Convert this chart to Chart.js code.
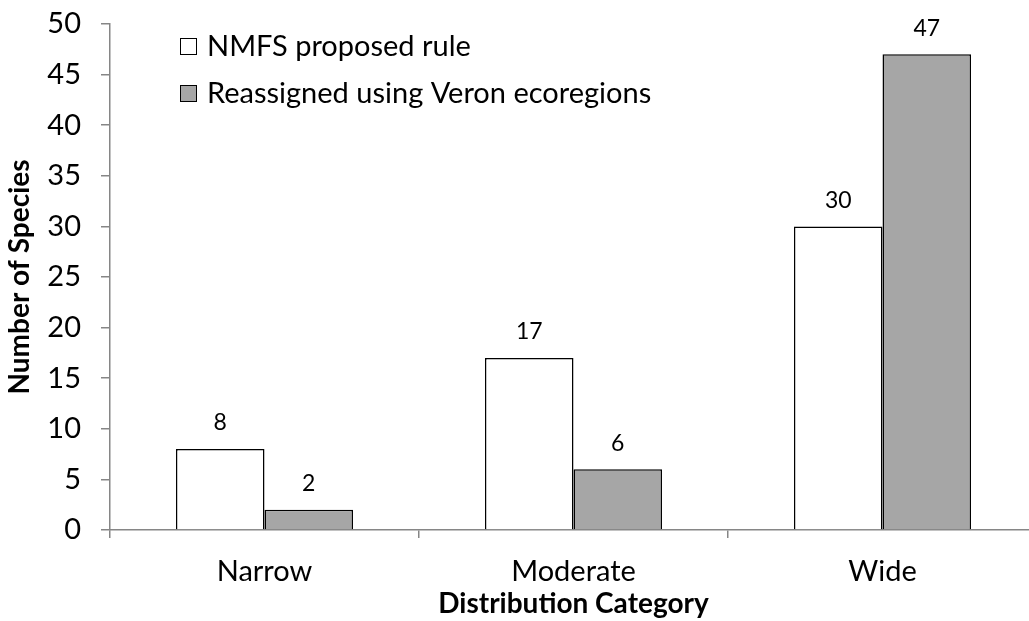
<!DOCTYPE html>
<html>
<head>
<meta charset="utf-8">
<script src="https://cdn.jsdelivr.net/npm/chart.js@4.4.1/dist/chart.umd.min.js"></script>
<style>
  html, body { margin: 0; padding: 0; background: #fff; overflow: hidden; }
  #wrap { width: 1029px; height: 621px; overflow: hidden; }
  #box { width: 1037px; height: 621px; }
</style>
</head>
<body>
<div id="wrap"><div id="box"><canvas id="speciesChart"></canvas></div></div>
<script>
const categories = ["Narrow", "Moderate", "Wide"];
const nmfsRule = [8, 17, 30];
const veronReassigned = [2, 6, 47];
const yTicks = [0, 5, 10, 15, 20, 25, 30, 35, 40, 45, 50];

const FONT = "Lato, 'Open Sans', sans-serif";
const AXIS_GRAY = "#868686";

// value labels above each bar
const barLabels = {
    id: "barLabels",
    afterDatasetsDraw(chart) {
        const c = chart.ctx;
        c.save();
        c.font = "23px " + FONT;
        c.fillStyle = "#000";
        c.textAlign = "center";
        c.textBaseline = "middle";
        chart.data.datasets.forEach((ds, i) => {
            chart.getDatasetMeta(i).data.forEach((bar, j) => {
                c.fillText(ds.data[j], bar.x, bar.y - 26);
            });
        });
        c.restore();
    }
};

// legend drawn inside the plot, top left
const innerLegend = {
    id: "innerLegend",
    afterDraw(chart) {
        const c = chart.ctx;
        const x0 = chart.chartArea.left + 70;
        const rows = [46, 93];
        c.save();
        c.font = "29px " + FONT;
        c.textBaseline = "middle";
        chart.data.datasets.forEach((ds, i) => {
            const y = rows[i];
            c.fillStyle = ds.backgroundColor;
            c.fillRect(x0, y - 8, 16, 16);
            c.strokeStyle = "#000";
            c.lineWidth = 1;
            c.strokeRect(x0 + 0.5, y - 7.5, 16, 16);
            c.fillStyle = "#000";
            c.fillText(ds.label, x0 + 27, y + 1);
        });
        c.restore();
    }
};

new Chart(document.getElementById("speciesChart"), {
    type: "bar",
    data: {
        labels: categories,
        datasets: [
            {
                label: "NMFS proposed rule",
                data: nmfsRule,
                backgroundColor: "#ffffff",
                borderColor: "#000000",
                borderWidth: 1.5,
            },
            {
                label: "Reassigned using Veron ecoregions",
                data: veronReassigned,
                backgroundColor: "#a6a6a6",
                borderColor: "#000000",
                borderWidth: 1.5,
            },
        ],
    },
    options: {
        responsive: true,
        maintainAspectRatio: false,
        animation: false,
        layout: { padding: { top: 24, right: 0, left: 0, bottom: 0 } },
        datasets: {
            bar: { categoryPercentage: 0.573, barPercentage: 1.0 }
        },
        plugins: {
            legend: { display: false },
            tooltip: { enabled: false },
        },
        scales: {
            x: {
                grid: {
                    offset: true,
                    drawOnChartArea: false,
                    color: AXIS_GRAY,
                    tickLength: 8,
                    lineWidth: 1.5,
                },
                border: { color: AXIS_GRAY, width: 1.5 },
                ticks: {
                    color: "#000",
                    font: { family: FONT, size: 29 },
                    padding: 16,
                },
                title: {
                    display: true,
                    text: "Distribution Category",
                    color: "#000",
                    font: { family: FONT, size: 28, weight: "bold" },
                    padding: { top: -4, bottom: 0 },
                },
                afterFit(scale) {
                    scale.height = 91;
                    scale.paddingLeft = 0;
                    scale.paddingRight = 0;
                },
            },
            y: {
                min: 0,
                max: 50,
                afterBuildTicks(scale) {
                    scale.ticks = yTicks.map(v => ({ value: v }));
                },
                grid: {
                    drawOnChartArea: false,
                    color: AXIS_GRAY,
                    tickLength: 9,
                    lineWidth: 1.5,
                },
                border: { color: AXIS_GRAY, width: 1.5 },
                ticks: {
                    color: "#000",
                    font: { family: FONT, size: 29 },
                    padding: 20,
                },
                title: {
                    display: true,
                    text: "Number of Species",
                    color: "#000",
                    font: { family: FONT, size: 28, weight: "bold" },
                    padding: { top: 3, bottom: 0 },
                },
                afterFit(scale) {
                    scale.width = 110;
                    scale.paddingTop = 0;
                    scale.paddingBottom = 0;
                },
            },
        },
    },
    plugins: [barLabels, innerLegend],
});
</script>
</body>
</html>
